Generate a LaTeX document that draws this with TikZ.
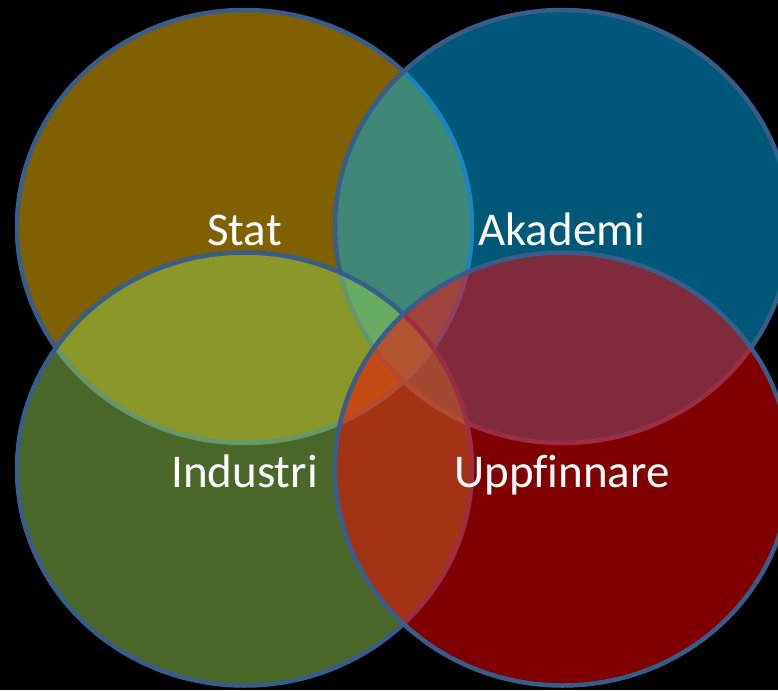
\documentclass[tikz,border=0pt]{standalone}
\usepackage{fontspec}
\setmainfont{Carlito}[Ligatures=NoCommon]
\definecolor{cgold}{HTML}{FFC000}
\definecolor{cblue}{HTML}{00B0F0}
\definecolor{cgreen}{HTML}{92D050}
\definecolor{cred}{HTML}{FF0000}
\definecolor{cedge}{HTML}{385D8A}
\begin{document}
\begin{tikzpicture}[x=1pt,y=-1pt,
  venn/.style={draw=cedge, line width=4.5pt, fill opacity=0.5, draw opacity=1},
  lab/.style={text=white, font=\fontsize{47}{52}\selectfont, anchor=base, inner sep=0pt}]
\fill[black] (0,0) rectangle (778,690);
\useasboundingbox (0,0) rectangle (778,690);
\draw[venn, fill=cgold]  (244.5,226.5) ellipse [x radius=227.5pt, y radius=216.5pt];
\draw[venn, fill=cblue]  (562.5,226.5) ellipse [x radius=227.5pt, y radius=216.5pt];
\draw[venn, fill=cgreen] (244.5,469) ellipse [x radius=227.5pt, y radius=216.5pt];
\draw[venn, fill=cred]   (562.5,469) ellipse [x radius=227.5pt, y radius=216.5pt];
\node[lab] (stat) at (244.5,245) {Stat};
\node[lab] (akademi) at (561.5,245) {Akademi};
\node[lab] (industri) at (244.5,487) {Industri};
\node[lab] (uppfinnare) at (562,487) {Uppfinnare};
\end{tikzpicture}
\end{document}
